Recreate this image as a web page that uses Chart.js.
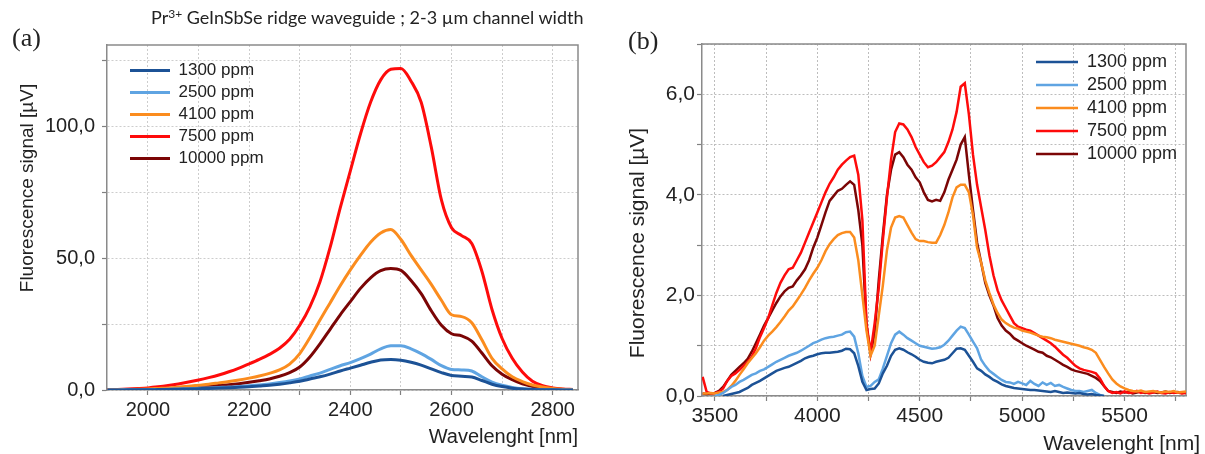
<!DOCTYPE html>
<html><head><meta charset="utf-8">
<script src="https://cdn.jsdelivr.net/npm/chart.js@4.4.1/dist/chart.umd.min.js"></script>
<style>
html,body{margin:0;padding:0;background:#fff;}
#page{position:relative;width:1205px;height:454px;overflow:hidden;background:#fff;font-family:'Liberation Sans',Arial,sans-serif;color:#222;}
.abs{position:absolute;white-space:nowrap;line-height:1;}
.ytitle{transform:translate(-50%,-50%) rotate(-90deg);}
canvas{position:absolute;top:0;}
</style></head><body>
<div id="page">
 <canvas id="ca" width="600" height="454" style="left:0"></canvas>
 <canvas id="cb" width="605" height="454" style="left:600px"></canvas>
 <div class="abs" style="left:12px;top:25px;font-family:'Liberation Serif',serif;font-size:26px">(a)</div>
 <div class="abs" style="left:628px;top:28px;font-family:'Liberation Serif',serif;font-size:26px">(b)</div>
 <div class="abs" style="left:151px;top:8px;font-family:Lato,sans-serif;font-size:18px">Pr<span style="font-size:12px;position:relative;top:-6px">3+</span> GeInSbSe ridge waveguide ; 2-3 µm channel width</div>
 <div class="abs ytitle" style="left:26px;top:188px;font-size:19px">Fluorescence signal [µV]</div>
 <div class="abs ytitle" style="left:636px;top:243px;font-size:21px">Fluorescence signal [µV]</div>
 <div class="abs" style="right:627px;top:426px;font-size:20px">Wavelenght [nm]</div>
 <div class="abs" style="right:5px;top:432px;font-size:21px">Wavelenght [nm]</div>
</div>
<script>
// ---------- Panel (a) data ----------
const xA = [1920,1940,1960,1980,2000,2020,2040,2060,2080,2100,
  2120,2140,2160,2180,2200,2220,2240,2260,2280,2300,
  2320,2340,2360,2380,2400,2420,2440,2460,2480,2500,
  2520,2540,2560,2580,2600,2620,2640,2660,2680,2700,
  2720,2740,2760,2780,2800,2820,2840];
const a1300 = [0.02,0.03,0.05,0.07,0.1,0.15,0.2,0.3,0.4,0.5,
  0.6,0.72,0.85,1.0,1.2,1.5,1.8,2.2,2.7,3.3,
  4.2,5.0,6.0,7.2,8.3,9.4,10.5,11.4,11.6,11.3,
  10.5,9.4,8.0,6.6,5.5,5.2,4.9,3.6,2.2,1.3,
  0.7,0.35,0.18,0.1,0.05,0.02,0.01];
const a2500 = [0.02,0.04,0.07,0.1,0.15,0.22,0.3,0.4,0.5,0.65,
  0.8,0.95,1.1,1.35,1.6,1.9,2.3,2.8,3.4,4.2,
  5.3,6.4,7.8,9.2,10.4,11.9,13.6,15.6,16.8,16.8,
  15.6,13.8,11.6,9.2,7.8,7.6,7.2,5.0,3.0,1.8,
  1.0,0.5,0.25,0.12,0.06,0.03,0.02];
const a4100 = [0.05,0.1,0.2,0.3,0.4,0.6,0.8,1.1,1.4,1.8,
  2.2,2.7,3.2,3.8,4.5,5.3,6.3,7.6,9.8,13.8,
  19.8,26.5,33,39.5,45.5,51,56,59.5,60.8,57,
  51,45.5,40,34,28.5,27.8,25.5,19,12,8,
  5,3.2,1.9,1.1,0.6,0.3,0.15];
const a7500 = [0.1,0.2,0.35,0.55,0.8,1.2,1.7,2.3,3.0,3.8,
  4.7,5.7,6.9,8.3,9.9,11.6,13.5,15.8,19.2,24.5,
  31.5,41,54,69,83,97,109,117.5,121.5,121.8,
  117,109,92,72,61.5,58.5,55.5,45,30.5,19.5,
  12,6.8,3.3,1.6,0.8,0.4,0.2];
const a10000 = [0.03,0.06,0.1,0.17,0.25,0.37,0.5,0.7,0.9,1.15,
  1.4,1.7,2.0,2.4,2.9,3.5,4.2,5.2,6.6,8.7,
  12.5,17.5,23,28.5,33.5,38.5,42.5,45.2,46,45.3,
  41.5,36.5,30,24.5,21.3,20.5,18.5,14,9.2,6,
  3.9,2.3,1.3,0.7,0.35,0.15,0.07];

// ---------- Panel (b) data ----------
const xB = [3440,3460,3480,3500,3520,3540,3560,3580,3600,3620,
  3640,3660,3680,3700,3720,3740,3760,3780,3800,3820,
  3840,3860,3880,3900,3920,3940,3960,3980,4000,4020,
  4040,4060,4080,4100,4120,4140,4160,4180,4200,4220,
  4240,4260,4280,4300,4320,4340,4360,4380,4400,4420,
  4440,4460,4480,4500,4520,4540,4560,4580,4600,4620,
  4640,4660,4680,4700,4720,4740,4760,4780,4800,4820,
  4840,4860,4880,4900,4920,4940,4960,4980,5000,5020,
  5040,5060,5080,5100,5120,5140,5160,5180,5200,5220,
  5240,5260,5280,5300,5320,5340,5360,5380,5400,5420,
  5440,5460,5480,5500,5520,5540,5560,5580,5600,5620,
  5640,5660,5680,5700,5720,5740,5760,5780,5800];
const b1300 = [null,null,null,null,null,0.00,0.02,0.04,0.06,0.08,
  0.12,0.16,0.22,0.26,0.30,0.35,0.40,0.45,0.50,0.53,
  0.56,0.58,0.62,0.66,0.70,0.75,0.78,0.80,0.83,0.85,
  0.86,0.86,0.87,0.88,0.90,0.94,0.93,0.85,0.60,0.28,
  0.12,0.14,0.15,0.25,0.45,0.60,0.80,0.92,0.95,0.92,
  0.87,0.83,0.78,0.72,0.68,0.66,0.65,0.68,0.70,0.72,
  0.76,0.85,0.94,0.95,0.92,0.80,0.68,0.55,0.50,0.43,
  0.38,0.32,0.28,0.23,0.20,0.18,0.16,0.15,0.14,0.13,
  0.12,0.12,0.11,0.10,0.09,0.08,0.10,0.08,0.06,0.07,
  0.06,0.05,0.06,0.04,0.03,0.04,0.02,0.01,0.00,null,
  null,null,null,null,null,null,null,null,null,null,
  null,null,null,null,null,null,null,null,null];
const b2500 = [null,null,null,0.00,0.02,0.06,0.12,0.18,0.22,0.28,
  0.32,0.37,0.42,0.45,0.50,0.53,0.58,0.63,0.68,0.72,
  0.76,0.80,0.83,0.86,0.90,0.95,1.00,1.05,1.08,1.12,
  1.15,1.17,1.18,1.20,1.22,1.27,1.28,1.18,0.85,0.40,
  0.18,0.20,0.28,0.33,0.55,0.80,1.05,1.22,1.28,1.22,
  1.15,1.10,1.05,1.00,0.98,0.96,0.94,0.95,0.97,1.02,
  1.10,1.20,1.30,1.38,1.35,1.22,1.08,0.95,0.72,0.60,
  0.50,0.44,0.38,0.32,0.28,0.27,0.24,0.28,0.25,0.22,
  0.30,0.24,0.20,0.27,0.22,0.26,0.20,0.22,0.18,0.15,
  0.12,0.10,0.10,0.08,0.10,0.12,0.06,0.02,0.00,null,
  null,null,null,null,null,null,null,null,null,null,
  null,null,null,null,null,null,null,null,null];
const b4100 = [0.05,0.05,0.06,0.05,0.07,0.08,0.12,0.20,0.30,0.42,
  0.53,0.65,0.75,0.85,0.97,1.10,1.20,1.28,1.37,1.47,
  1.58,1.70,1.78,1.90,2.02,2.15,2.30,2.43,2.55,2.70,
  2.88,3.02,3.12,3.20,3.24,3.26,3.26,3.15,2.70,2.00,
  1.30,0.80,1.00,1.60,2.20,2.90,3.35,3.55,3.58,3.55,
  3.40,3.25,3.12,3.08,3.08,3.06,3.05,3.05,3.20,3.40,
  3.65,3.95,4.15,4.20,4.20,4.05,3.60,2.95,2.65,2.30,
  2.05,1.82,1.65,1.52,1.45,1.40,1.36,1.34,1.30,1.28,
  1.26,1.23,1.20,1.18,1.17,1.15,1.12,1.10,1.08,1.06,
  1.04,1.02,1.00,0.97,0.95,0.92,0.86,0.72,0.58,0.45,
  0.33,0.25,0.19,0.15,0.12,0.10,0.09,0.11,0.08,0.09,
  0.10,0.08,0.07,0.09,0.08,0.10,0.07,0.08,0.09];
const b7500 = [0.38,0.08,0.05,0.06,0.08,0.15,0.30,0.40,0.45,0.52,
  0.60,0.68,0.78,0.95,1.17,1.35,1.55,1.80,2.05,2.25,
  2.40,2.52,2.55,2.70,2.85,3.05,3.25,3.45,3.65,3.85,
  4.05,4.22,4.35,4.50,4.60,4.68,4.75,4.78,4.40,3.50,
  1.45,0.86,1.45,2.15,3.10,3.95,4.70,5.25,5.42,5.40,
  5.30,5.15,4.95,4.80,4.65,4.55,4.58,4.65,4.75,4.85,
  5.05,5.30,5.65,6.15,6.22,5.60,4.80,4.20,3.75,3.30,
  2.80,2.40,2.10,1.90,1.75,1.60,1.45,1.38,1.35,1.32,
  1.30,1.25,1.20,1.15,1.10,1.05,0.98,0.90,0.82,0.76,
  0.68,0.60,0.55,0.52,0.50,0.48,0.45,0.35,0.20,0.10,
  0.06,0.08,0.05,0.09,0.06,0.07,0.10,0.06,0.08,0.05,
  0.07,0.09,0.06,0.05,0.08,0.06,0.07,0.05,0.06];
const b10000 = [0.05,0.04,0.05,0.06,0.10,0.18,0.30,0.42,0.50,0.58,
  0.65,0.74,0.88,1.05,1.22,1.40,1.55,1.70,1.85,1.98,
  2.08,2.15,2.18,2.30,2.40,2.52,2.70,2.95,3.15,3.40,
  3.65,3.88,3.98,4.08,4.12,4.20,4.27,4.20,3.70,3.00,
  1.40,0.84,1.25,2.30,3.20,4.00,4.50,4.80,4.85,4.75,
  4.60,4.50,4.35,4.25,4.05,3.90,3.87,3.90,3.88,4.05,
  4.30,4.50,4.70,5.00,5.15,4.40,3.70,3.05,2.65,2.25,
  2.00,1.80,1.55,1.40,1.30,1.24,1.15,1.10,1.05,1.00,
  0.96,0.92,0.88,0.86,0.80,0.77,0.72,0.67,0.62,0.58,
  0.53,0.50,0.48,0.46,0.44,0.40,0.36,0.30,0.20,0.10,
  0.08,0.06,0.09,0.07,0.08,0.05,0.07,0.09,0.06,0.07,
  0.08,0.06,0.07,0.09,0.06,0.07,0.08,0.06,0.07];

const seriesNames = ['1300 ppm','2500 ppm','4100 ppm','7500 ppm','10000 ppm'];
const seriesColors = ['#1c5296','#5fa4e2','#fb8c1e','#fe0b0b','#7b0505'];

Chart.defaults.font.family = "'Liberation Sans', Arial, sans-serif";
Chart.defaults.color = '#222';

function pts(xs, ys){ return xs.map((x,i)=>({x:x, y:ys[i]})); }
function comma(v){ return v.toFixed(1).replace('.', ','); }

const legendShift = {
  id:'legendShift',
  afterLayout(chart, args, o){
    const l = chart.legend; if(!l) return;
    l.left += o.dx; l.right += o.dx; l.top += o.dy; l.bottom += o.dy;
  }
};
const frame = {
  id:'frame',
  beforeDatasetsDraw(chart, args, o){
    const c = chart.ctx, a = chart.chartArea;
    c.save(); c.strokeStyle = o.color; c.lineWidth = o.width;
    c.beginPath(); c.moveTo(a.left, a.top); c.lineTo(a.right, a.top); c.lineTo(a.right, a.bottom); c.stroke();
    c.restore();
  }
};

function build(id, xs, series, o){
  return new Chart(document.getElementById(id), {
    type:'line',
    data:{ datasets: series.map((ys,i)=>({
      label: seriesNames[i], data: pts(xs, ys),
      borderColor: seriesColors[i], backgroundColor: seriesColors[i],
      borderWidth: o.lw, pointRadius:0, fill:false,
      tension: 0, cubicInterpolationMode: o.smooth ? 'monotone' : 'default',
      spanGaps:false
    })) },
    plugins:[legendShift, frame],
    options:{
      responsive:false, animation:false,
      layout:{ padding:{ top:o.top, right:o.right, left:0, bottom:0 } },
      plugins:{
        tooltip:{enabled:false},
        legend:{ position:'chartArea', align:'start',
          labels:{ usePointStyle:true, pointStyle:'line', pointStyleWidth:o.legW, padding:5,
                   color:'#222', font:{size:o.legFont} } },
        legendShift:{ dx:o.ldx, dy:o.ldy },
        frame:{ color:'#8a8a8a', width:1.5 }
      },
      scales:{
        x:{ type:'linear', position:'bottom', min:o.xmin, max:o.xmax,
            afterFit:s=>{ s.height = o.xh; },
            ticks:{ stepSize:o.xstep, includeBounds:false, autoSkip:false, maxRotation:0, minRotation:0,
                    padding:3, color:'#222', font:{size:o.tickFont},
                    callback:v=> (v % o.xlab === 0 ? String(v) : '') },
            grid:{ color:o.gridColor, lineWidth:1, borderDash:[2,2], tickColor:'#808080', tickLength:5, tickWidth:1.2, tickBorderDash:[] },
            border:{ color:'#8a8a8a', width:1.5, dash:[2,2] } },
        y:{ type:'linear', position:'left', min:0, max:o.ymax,
            afterFit:s=>{ s.width = o.yw; },
            ticks:{ stepSize:o.ystep, includeBounds:false, autoSkip:false,
                    padding:o.ypad, color:'#222', font:{size:o.tickFont},
                    callback:v=> (Math.abs(v % o.ylab) < 1e-9 ? comma(v) : '') },
            grid:{ color:o.gridColor, lineWidth:1, borderDash:[2,2], tickColor:'#808080', tickLength:5, tickWidth:1.2, tickBorderDash:[] },
            border:{ color:'#8a8a8a', width:1.5, dash:[2,2] } }
      }
    }
  });
}

build('ca', xA, [a1300,a2500,a4100,a7500,a10000], {
  lw:3, smooth:true, top:45, right:22, xh:64, yw:107, gridColor:'#cdcdcd',
  xmin:1919, xmax:2850, xstep:100, xlab:200, ymax:130.7, ystep:25, ylab:50, ypad:7,
  tickFont:20, legFont:17, legW:40, ldx:18, ldy:57
});
build('cb', xB, [b1300,b2500,b4100,b7500,b10000], {
  lw:2.5, smooth:false, top:44, right:19, xh:58, yw:102, gridColor:'#bdbdbd',
  xmin:3437, xmax:5800, xstep:250, xlab:500, ymax:7, ystep:1, ylab:2, ypad:2,
  tickFont:21, legFont:18, legW:42, ldx:329, ldy:48
});
</script>
</body></html>
